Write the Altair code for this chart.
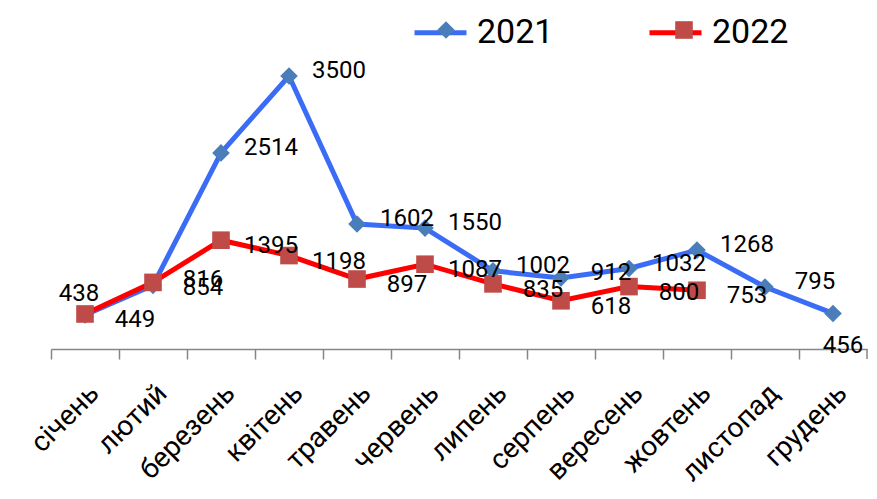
import altair as alt
import pandas as pd

months = ["січень", "лютий", "березень", "квітень", "травень", "червень",
          "липень", "серпень", "вересень", "жовтень", "листопад", "грудень"]
v2021 = [438, 816, 2514, 3500, 1602, 1550, 1002, 912, 1032, 1268, 795, 456]
v2022 = [449, 854, 1395, 1198, 897, 1087, 835, 618, 800, 753]
years = ["2021", "2022"]
line_colors = ["#3B6CF5", "#FF0000"]
marker_colors = ["#4A7EBB", "#BE4B48"]
marker_shapes = ["diamond", "square"]

rows = []
for yr, vals in zip(years, [v2021, v2022]):
    for i, v in enumerate(vals):
        rows.append({"month": months[i], "idx": i, "value": v, "year": yr, "series": yr})
df = pd.DataFrame(rows)

FONT = "Roboto"

x = alt.X(
    "month:N", sort=months, bandPosition=0.5,
    scale=alt.Scale(type="band", paddingInner=0, paddingOuter=0),
    axis=alt.Axis(title=None, labelAngle=-45, labelFontSize=28, labelFont=FONT,
                  labelColor="black", domainColor="#868686", tickColor="#868686",
                  domainWidth=1.5, tickWidth=1.5, tickSize=10, bandPosition=0,
                  labelPadding=20, grid=False),
)
y = alt.Y("value:Q", scale=alt.Scale(domain=[0, 4000]), axis=None)

base = alt.Chart(df)

lines = base.mark_line(strokeWidth=5).encode(
    x=x, y=y, order=alt.Order("idx:Q"),
    color=alt.Color("year:N", scale=alt.Scale(range=line_colors),
                    legend=alt.Legend(title=None, orient="none", direction="horizontal",
                                      legendX=361, legendY=-33, symbolType="stroke",
                                      symbolSize=2704, symbolStrokeWidth=5,
                                      labelFontSize=34, labelFont=FONT, labelColor="black",
                                      labelOffset=8, columnPadding=85, padding=0)),
)

legB = alt.Legend(title=None, orient="none", direction="horizontal",
                  legendX=378, legendY=-24, symbolSize=310, symbolStrokeWidth=0,
                  labelFontSize=34, labelFont=FONT, labelOpacity=0,
                  labelOffset=25, columnPadding=102, padding=0)

points = base.mark_point(filled=True, size=310, opacity=1, strokeWidth=0).encode(
    x=x, y=y,
    fill=alt.Fill("series:N", scale=alt.Scale(range=marker_colors), legend=legB),
    shape=alt.Shape("series:N", scale=alt.Scale(range=marker_shapes), legend=legB),
)

is21 = alt.datum.year == "2021"
is22 = alt.datum.year == "2022"
txt = dict(fontSize=24, font=FONT, color="black")

text21 = base.transform_filter(is21 & (alt.datum.idx > 0) & (alt.datum.idx < 11)).mark_text(
    dx=50, dy=-5, **txt).encode(x=x, y=y, text=alt.Text("value:Q"))
text21_first = base.transform_filter(is21 & (alt.datum.idx == 0)).mark_text(
    dx=-6, dy=-21, **txt).encode(x=x, y=y, text=alt.Text("value:Q"))
text21_last = base.transform_filter(is21 & (alt.datum.idx == 11)).mark_text(
    dx=10, dy=33, **txt).encode(x=x, y=y, text=alt.Text("value:Q"))
text22 = base.transform_filter(is22).mark_text(
    dx=50, dy=6, **txt).encode(x=x, y=y, text=alt.Text("value:Q"))

end_tick = alt.Chart(alt.Data(values=[{}])).mark_rule(color="#868686", strokeWidth=1.5).encode(
    x=alt.value(816), y=alt.value(312), y2=alt.value(322))

chart = alt.layer(lines, points, text21, text21_first, text21_last, text22, end_tick).properties(
    width=816, height=312,
    autosize=alt.AutoSizeParams(type="none"),
    padding={"left": 43, "top": 29, "right": 2, "bottom": 142},
).configure_view(stroke=None)

chart.save("out.html", embed_options={"renderer": "svg", "actions": False})
